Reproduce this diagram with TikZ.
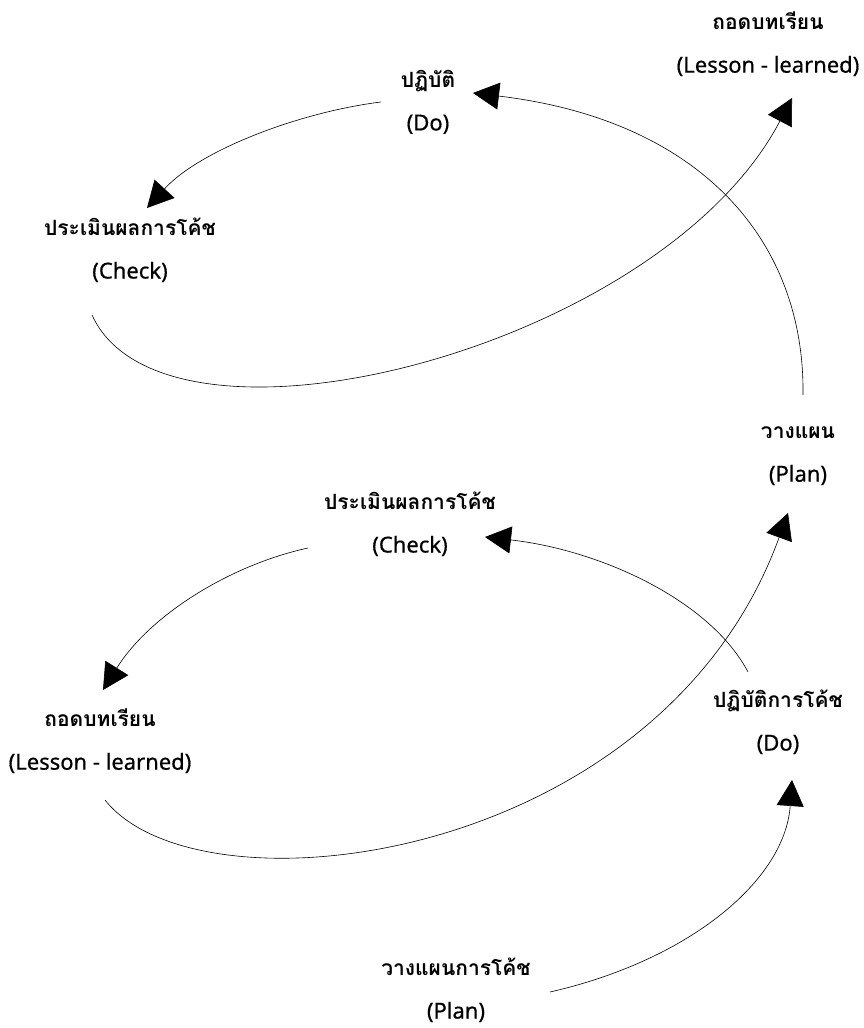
\documentclass[tikz,border=0pt]{standalone}
\usepackage{fontspec}
\usetikzlibrary{arrows.meta}
\setmainfont{Noto Sans}[FakeBold=0.6]
\newfontfamily\thaifont[Script=Thai]{Loma}
\newcommand\thline[1]{{\thaifont\bfseries\fontsize{21}{43}\selectfont #1}}
\begin{document}
\begin{tikzpicture}[x=1pt,y=-1pt,
  lbl/.style={align=center, inner sep=0pt, font=\fontsize{22}{43}\selectfont},
  flow/.style={line width=0.6pt, -{Triangle[length=26pt,width=27pt]}}]
\useasboundingbox (0,0) rectangle (863,1028);

% upper cycle
\node[lbl] (lessonA) at (768,44) {\thline{ถอดบทเรียน}\\(Lesson - learned)};
\node[lbl] (doA)     at (428,102) {\thline{ปฏิบัติ}\\(Do)};
\node[lbl] (checkA)  at (130,250) {\thline{ประเมินผลการโค้ช}\\(Check)};
\node[lbl] (planA)   at (798,456) {\thline{วางแผน}\\(Plan)};

% lower cycle
\node[lbl] (checkB)  at (410,524) {\thline{ประเมินผลการโค้ช}\\(Check)};
\node[lbl] (lessonB) at (100,741) {\thline{ถอดบทเรียน}\\(Lesson - learned)};
\node[lbl] (doB)     at (778,722) {\thline{ปฏิบัติการโค้ช}\\(Do)};
\node[lbl] (planB)   at (456,990) {\thline{วางแผนการโค้ช}\\(Plan)};

% connector ends
\coordinate (doA-out)     at (381,102);
\coordinate (checkA-in)   at (147,208);
\coordinate (planA-out)   at (803,395);
\coordinate (doA-in)      at (473,93);
\coordinate (checkA-out)  at (92,315);
\coordinate (lessonA-in)  at (792,98);
\coordinate (checkB-out)  at (308,548);
\coordinate (lessonB-in)  at (103,690);
\coordinate (doB-out)     at (748,672);
\coordinate (checkB-in)   at (485,537);
\coordinate (lessonB-out) at (105,800);
\coordinate (planA-in)    at (788,513);
\coordinate (planB-out)   at (550,992);
\coordinate (doB-in)      at (792,780);

\draw[flow] (doA-out) .. controls (300,112) and (200,150) .. (checkA-in);
\draw[flow] (planA-out) .. controls (805,240) and (700,120) .. (doA-in);
\draw[flow] (checkA-out) .. controls (165,475) and (660,350) .. (lessonA-in);

\draw[flow] (checkB-out) .. controls (230,565) and (150,615) .. (lessonB-in);
\draw[flow] (doB-out) .. controls (710,600) and (600,550) .. (checkB-in);
\draw[flow] (lessonB-out) .. controls (200,920) and (660,865) .. (planA-in);
\draw[flow] (planB-out) .. controls (690,960) and (785,880) .. (doB-in);
\end{tikzpicture}
\end{document}
